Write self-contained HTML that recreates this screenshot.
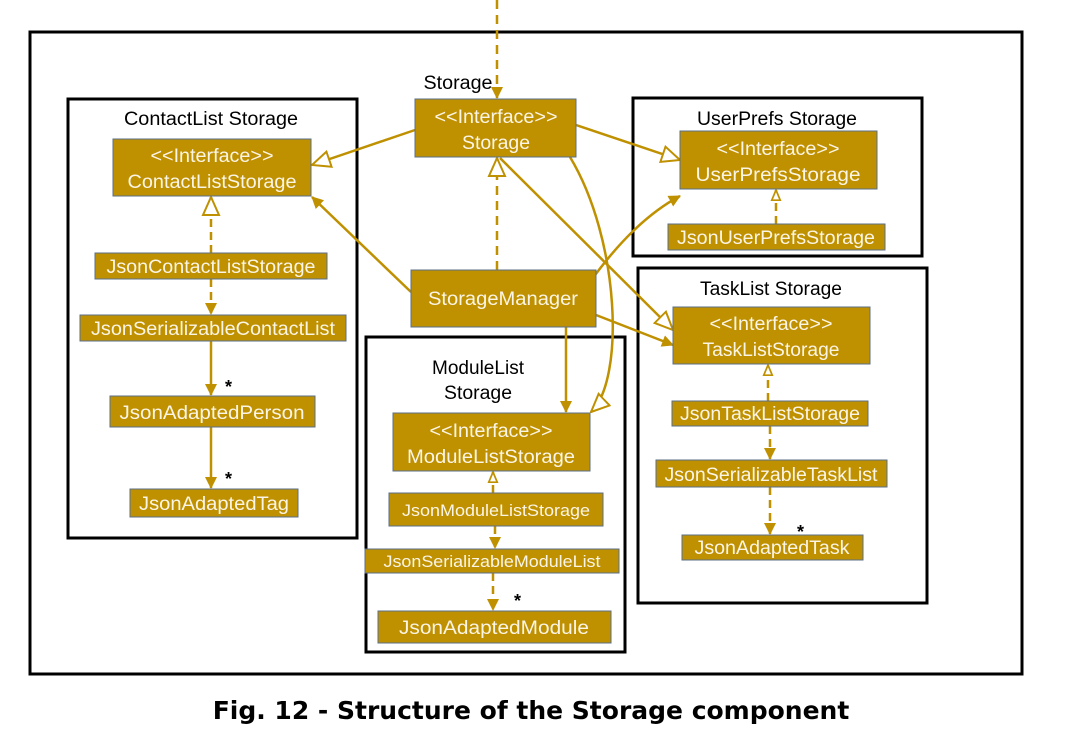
<!DOCTYPE html>
<html><head><meta charset="utf-8"><style>
body{margin:0;background:#fff;}
svg{display:block}
text{font-family:"Liberation Sans",sans-serif;}
</style></head><body>
<svg width="1074" height="748" viewBox="0 0 1074 748" xmlns="http://www.w3.org/2000/svg">
<defs>
<marker id="h" viewBox="0 0 20 20" refX="19" refY="10" markerWidth="20" markerHeight="20" markerUnits="userSpaceOnUse" orient="auto"><path d="M1,2 L19,10 L1,18 Z" fill="#fff" stroke="#BF9000" stroke-width="2"/></marker>
<marker id="hs" viewBox="0 0 14 14" refX="13" refY="7" markerWidth="12" markerHeight="12" markerUnits="userSpaceOnUse" orient="auto"><path d="M1,2 L13,7 L1,12 Z" fill="#fff" stroke="#BF9000" stroke-width="2"/></marker>
<marker id="f" viewBox="0 0 12 12" refX="11" refY="6" markerWidth="12" markerHeight="12" markerUnits="userSpaceOnUse" orient="auto"><path d="M0,0 L12,6 L0,12 Z" fill="#BF9000"/></marker>
</defs>
<g fill="none" stroke="#000" stroke-width="3">
<rect x="30" y="32" width="992" height="642"/>
<rect x="68" y="99" width="289" height="439"/>
<rect x="633" y="98" width="289" height="158"/>
<rect x="638" y="268" width="289" height="335"/>
<rect x="366" y="337" width="259" height="315"/>
</g>
<g font-size="19" fill="#000" text-anchor="middle">
<text x="458" y="89" textLength="69" lengthAdjust="spacingAndGlyphs">Storage</text>
<text x="211" y="125" textLength="174" lengthAdjust="spacingAndGlyphs">ContactList Storage</text>
<text x="777" y="125" textLength="160" lengthAdjust="spacingAndGlyphs">UserPrefs Storage</text>
<text x="771" y="295" textLength="142" lengthAdjust="spacingAndGlyphs">TaskList Storage</text>
<text x="478" y="374" textLength="92" lengthAdjust="spacingAndGlyphs">ModuleList</text>
<text x="478" y="399" textLength="68" lengthAdjust="spacingAndGlyphs">Storage</text>
</g>
<g stroke="#BF9000" stroke-width="2.5" fill="none">
<line x1="497" y1="0" x2="497" y2="98" stroke-dasharray="9,6" marker-end="url(#f)"/>
<line x1="415" y1="130" x2="312" y2="165" marker-end="url(#h)"/>
<line x1="576" y1="125" x2="680" y2="160" marker-end="url(#h)"/>
<line x1="500" y1="158" x2="673" y2="330" marker-end="url(#h)"/>
<path d="M570,157 C620,240 625,380 591,412" marker-end="url(#h)"/>
<line x1="497" y1="270" x2="497" y2="158" stroke-dasharray="9,6" marker-end="url(#h)"/>
<line x1="411" y1="292" x2="312" y2="197" marker-end="url(#f)"/>
<path d="M590,282 C620,240 650,212 680,196" marker-end="url(#f)"/>
<line x1="596" y1="315" x2="673" y2="345" marker-end="url(#f)"/>
<line x1="566" y1="327" x2="566" y2="412" marker-end="url(#f)"/>
<g stroke-dasharray="8,5">
<line x1="211" y1="253" x2="211" y2="197" marker-end="url(#h)"/>
<line x1="211" y1="279" x2="211" y2="314" marker-end="url(#f)"/>
<line x1="776" y1="224" x2="776" y2="190" marker-end="url(#hs)"/>
<line x1="768" y1="401" x2="768" y2="365" marker-end="url(#hs)"/>
<line x1="770" y1="426" x2="770" y2="459" marker-end="url(#f)"/>
<line x1="770" y1="487" x2="770" y2="534" marker-end="url(#f)"/>
<line x1="493" y1="493" x2="493" y2="472" marker-end="url(#hs)"/>
<line x1="495" y1="526" x2="495" y2="548" marker-end="url(#f)"/>
<line x1="493" y1="573" x2="493" y2="610" marker-end="url(#f)"/>
</g>
<line x1="211" y1="341" x2="211" y2="395" marker-end="url(#f)"/>
<line x1="211" y1="427" x2="211" y2="488" marker-end="url(#f)"/>
</g>
<g fill="#BF9000" stroke="#5b6f8a" stroke-width="1">
<rect x="415" y="99" width="161" height="58"/>
<rect x="113" y="139" width="198" height="57"/>
<rect x="95" y="253" width="232" height="26"/>
<rect x="80" y="315" width="266" height="26"/>
<rect x="110" y="396" width="205" height="31"/>
<rect x="130" y="489" width="168" height="28"/>
<rect x="680" y="131" width="197" height="58"/>
<rect x="668" y="224" width="217" height="26"/>
<rect x="411" y="270" width="185" height="57"/>
<rect x="673" y="307" width="197" height="57"/>
<rect x="672" y="401" width="196" height="25"/>
<rect x="656" y="460" width="231" height="27"/>
<rect x="682" y="535" width="181" height="25"/>
<rect x="393" y="413" width="197" height="58"/>
<rect x="389" y="493" width="214" height="33"/>
<rect x="365" y="549" width="254" height="24"/>
<rect x="378" y="611" width="233" height="32"/>
</g>
<g fill="#fbf5e6" font-size="19" text-anchor="middle" lengthAdjust="spacingAndGlyphs">
<text x="496" y="123" textLength="123" lengthAdjust="spacingAndGlyphs">&lt;&lt;Interface&gt;&gt;</text><text x="496" y="149" textLength="68" lengthAdjust="spacingAndGlyphs">Storage</text>
<text x="212" y="162" textLength="123" lengthAdjust="spacingAndGlyphs">&lt;&lt;Interface&gt;&gt;</text><text x="212" y="188" textLength="169" lengthAdjust="spacingAndGlyphs">ContactListStorage</text>
<text x="211" y="273" textLength="209" lengthAdjust="spacingAndGlyphs">JsonContactListStorage</text>
<text x="213" y="335" textLength="244" lengthAdjust="spacingAndGlyphs">JsonSerializableContactList</text>
<text x="212" y="419" textLength="185" lengthAdjust="spacingAndGlyphs">JsonAdaptedPerson</text>
<text x="214" y="510" textLength="150" lengthAdjust="spacingAndGlyphs">JsonAdaptedTag</text>
<text x="778" y="155" textLength="123" lengthAdjust="spacingAndGlyphs">&lt;&lt;Interface&gt;&gt;</text><text x="778" y="181" textLength="165" lengthAdjust="spacingAndGlyphs">UserPrefsStorage</text>
<text x="776" y="244" textLength="198" lengthAdjust="spacingAndGlyphs">JsonUserPrefsStorage</text>
<text x="503" y="305" textLength="150" lengthAdjust="spacingAndGlyphs">StorageManager</text>
<text x="771" y="330" textLength="123" lengthAdjust="spacingAndGlyphs">&lt;&lt;Interface&gt;&gt;</text><text x="771" y="356" textLength="137" lengthAdjust="spacingAndGlyphs">TaskListStorage</text>
<text x="770" y="420" textLength="180" lengthAdjust="spacingAndGlyphs">JsonTaskListStorage</text>
<text x="771" y="481" textLength="213" lengthAdjust="spacingAndGlyphs">JsonSerializableTaskList</text>
<text x="772" y="554" textLength="155" lengthAdjust="spacingAndGlyphs">JsonAdaptedTask</text>
<text x="491" y="437" textLength="123" lengthAdjust="spacingAndGlyphs">&lt;&lt;Interface&gt;&gt;</text><text x="491" y="463" textLength="168" lengthAdjust="spacingAndGlyphs">ModuleListStorage</text>
<text x="496" y="516" font-size="17" textLength="188" lengthAdjust="spacingAndGlyphs">JsonModuleListStorage</text>
<text x="492" y="567" font-size="17" textLength="217" lengthAdjust="spacingAndGlyphs">JsonSerializableModuleList</text>
<text x="494" y="634" textLength="190" lengthAdjust="spacingAndGlyphs">JsonAdaptedModule</text>
</g>
<g font-size="18" font-weight="bold" fill="#000" font-family="Liberation Sans">
<text x="225" y="393">*</text><text x="225" y="485">*</text>
<text x="514" y="607">*</text><text x="797" y="538">*</text>
</g>
<text x="531" y="719" text-anchor="middle" font-size="25" font-weight="bold" fill="#000" style="font-family:'DejaVu Sans',sans-serif">Fig. 12 - Structure of the Storage component</text>
</svg>
</body></html>
